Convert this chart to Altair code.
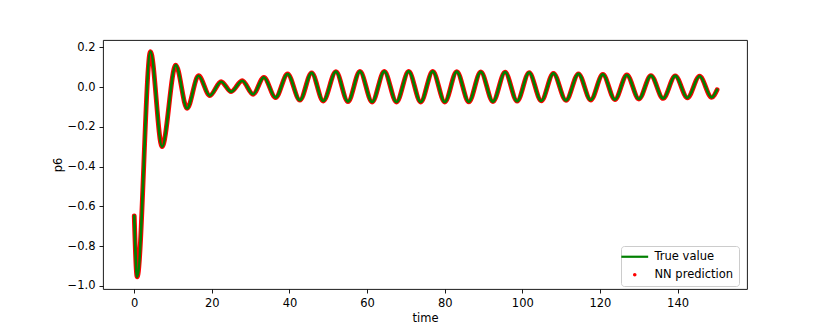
import altair as alt
import pandas as pd

# Extrema / key points (time, p6)
time_pts = [0.0, 0.75, 4.18, 7.17, 10.70, 13.62, 16.56, 19.47, 22.39, 24.97,
            27.81, 30.64, 33.40, 36.42, 39.52, 42.69, 45.71, 48.70, 51.97, 55.07,
            58.16, 61.30, 64.43, 67.58, 70.72, 73.82, 76.92, 80.02, 83.11, 86.21,
            89.30, 92.43, 95.56, 98.66, 101.75, 104.89, 108.02, 111.25, 114.47, 117.62,
            120.76, 123.86, 126.95, 130.05, 133.14, 136.28, 139.41, 142.55, 145.68, 148.80,
            150.2]
p6_true = [-0.648, -0.955, 0.178, -0.300, 0.111, -0.107, 0.057, -0.043, 0.027, -0.023,
           0.032, -0.036, 0.049, -0.053, 0.066, -0.066, 0.072, -0.070, 0.078, -0.073,
           0.079, -0.075, 0.079, -0.075, 0.079, -0.075, 0.079, -0.075, 0.078, -0.074,
           0.077, -0.073, 0.075, -0.071, 0.073, -0.069, 0.069, -0.067, 0.067, -0.065,
           0.064, -0.063, 0.061, -0.060, 0.058, -0.057, 0.056, -0.054, 0.055, -0.052,
           -0.013]
p6_pred = [-0.648, -0.955, 0.178, -0.300, 0.111, -0.107, 0.057, -0.043, 0.027, -0.023,
           0.032, -0.036, 0.049, -0.053, 0.066, -0.066, 0.072, -0.070, 0.078, -0.073,
           0.079, -0.075, 0.079, -0.075, 0.079, -0.075, 0.079, -0.075, 0.078, -0.074,
           0.077, -0.073, 0.075, -0.071, 0.073, -0.069, 0.069, -0.067, 0.067, -0.065,
           0.064, -0.063, 0.061, -0.060, 0.058, -0.057, 0.056, -0.054, 0.055, -0.052,
           -0.013]

series_names = ["True value", "NN prediction"]
series_colors = ["#008000", "#ff0000"]
x_ticks = [0, 20, 40, 60, 80, 100, 120, 140]
y_ticks = [-1.0, -0.8, -0.6, -0.4, -0.2, 0.0, 0.2]

df_true = pd.DataFrame({"time": time_pts, "p6": p6_true, "series": "True value"})
df_pred = pd.DataFrame({"time": time_pts, "p6": p6_pred, "series": "NN prediction"})

FONT = "DejaVu Sans"
is_pred = "datum.value === 'NN prediction'"
dot_path = "M-0.26,0A0.26,0.26,0,1,1,0.26,0A0.26,0.26,0,1,1,-0.26,0Z"
line_path = "M-2,0L2,0"

legend = alt.Legend(
    title=None, orient="none", legendX=518, legendY=206, direction="vertical",
    fillColor="rgba(255,255,255,0.8)", strokeColor="#cccccc", cornerRadius=3,
    padding=5, labelFont=FONT, labelFontSize=11.5, labelColor="black",
    symbolSize=180, symbolOffset=3, labelOffset=14, rowPadding=5,
    symbolType=alt.ExprRef(expr=f"{is_pred} ? '{dot_path}' : '{line_path}'"),
    symbolFillColor=alt.ExprRef(expr=f"{is_pred} ? '#ff0000' : 'transparent'"),
    symbolStrokeWidth=alt.ExprRef(expr=f"{is_pred} ? 0 : 2.2"),
)

color = alt.Color("series:N", scale=alt.Scale(domain=series_names, range=series_colors),
                  legend=legend)
x = alt.X("time:Q", scale=alt.Scale(domain=[-8.05, 157.9], nice=False, zero=False),
          axis=alt.Axis(values=x_ticks, format="d", title="time"))
y = alt.Y("p6:Q", scale=alt.Scale(domain=[-1.016, 0.237], nice=False, zero=False),
          axis=alt.Axis(values=y_ticks, format=".1f", title="p6"))

pred = alt.Chart(df_pred).mark_line(strokeWidth=4.8, strokeCap="round", strokeJoin="round",
                                    interpolate="monotone").encode(x=x, y=y, color=color)
true = alt.Chart(df_true).mark_line(strokeWidth=2.7, strokeCap="round", strokeJoin="round",
                                    interpolate="monotone").encode(x=x, y=y, color=color)

chart = alt.layer(pred, true).properties(
    width=644, height=249,
    autosize=alt.AutoSizeParams(type="none"),
    padding={"left": 95, "top": 32, "right": 75, "bottom": 35},
    background="white",
).configure_view(
    stroke="black", strokeWidth=0.9
).configure_axis(
    domain=False, grid=False, tickColor="black", tickSize=4, tickWidth=0.9,
    labelPadding=4, labelFont=FONT, labelFontSize=11.5, labelColor="black",
    titleFont=FONT, titleFontSize=11.5, titleFontWeight="normal", titleColor="black",
    titlePadding=4,
)

chart.save("out.html", embed_options={"renderer": "svg", "actions": False})
